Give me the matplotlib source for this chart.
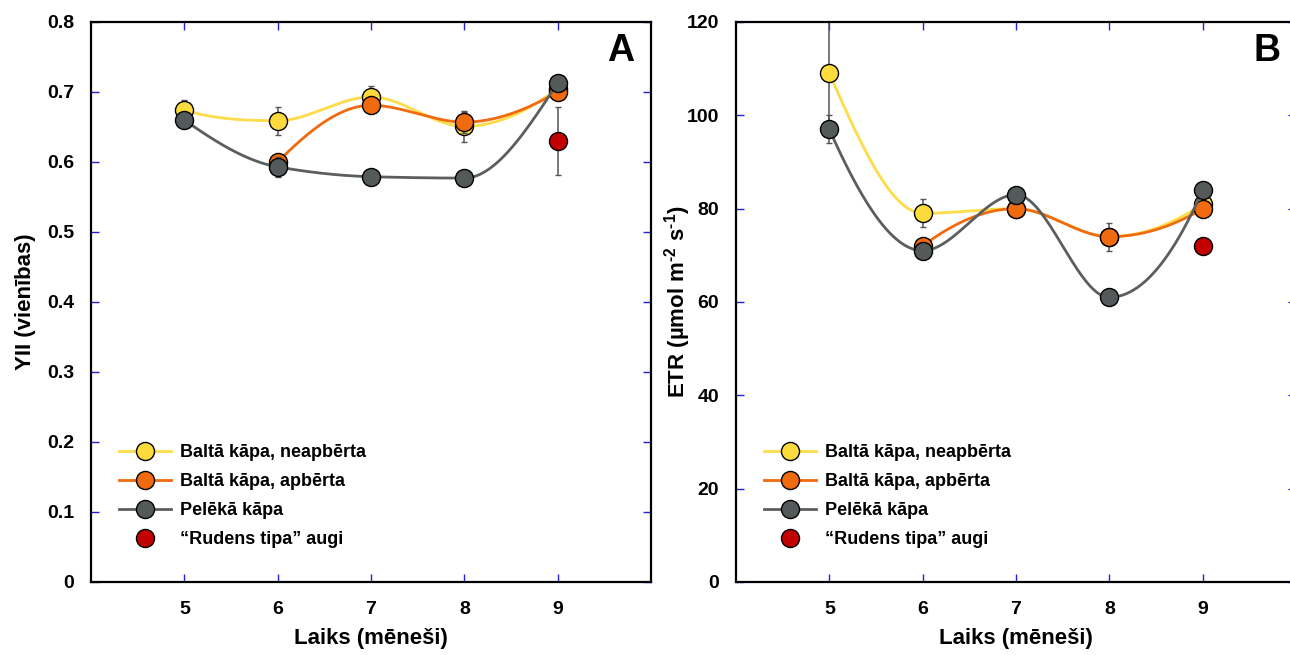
import numpy as np
import matplotlib
matplotlib.use("Agg")
import matplotlib.pyplot as plt
from matplotlib.lines import Line2D
from matplotlib.ticker import FuncFormatter

plt.rcParams['font.family'] = ['Liberation Sans', 'DejaVu Sans']
plt.rcParams['font.weight'] = 'bold'
plt.rcParams['mathtext.fontset'] = 'custom'
plt.rcParams['mathtext.rm'] = 'Liberation Sans:bold'
plt.rcParams['mathtext.default'] = 'rm'

# Months of observation
months = [5, 6, 7, 8, 9]
months_covered = [6, 7, 8, 9]
months_autumn = [9]

# Panel A: effective quantum yield Y(II)
yii_white = [0.674, 0.659, 0.693, 0.651, 0.705]
yii_white_err = [0.015, 0.020, 0.016, 0.022, 0.005]
yii_covered = [0.600, 0.681, 0.657, 0.700]
yii_covered_err = [0.005, 0.010, 0.015, 0.005]
yii_grey = [0.660, 0.593, 0.579, 0.577, 0.713]
yii_grey_err = [0.005, 0.014, 0.005, 0.005, 0.005]
yii_autumn = [0.630]
yii_autumn_err = [0.048]

# Panel B: electron transport rate
etr_white = [109, 79, 80, 74, 81]
etr_white_err = [13, 3, 1, 1, 1]
etr_covered = [72, 80, 74, 80]
etr_covered_err = [1, 1, 3, 1]
etr_grey = [97, 71, 83, 61, 84]
etr_grey_err = [3, 1, 1, 1, 1]
etr_autumn = [72]

labels = ["Baltā kāpa, neapbērta", "Baltā kāpa, apbērta",
          "Pelēkā kāpa", "“Rudens tipa” augi"]
colors = ["#FDDB3C", "#F06A10", "#54595A", "#C20000"]
line_colors = ["#FDDC48", "#F06A10", "#5A5E5E", None]
tick_blue = "#2222DD"


def pchip_curve(x, y, n=300):
    """Shape-preserving piecewise cubic Hermite curve through the points."""
    x = np.asarray(x, float)
    y = np.asarray(y, float)
    h = np.diff(x)
    d = np.diff(y) / h
    k = len(x)
    m = np.zeros(k)
    for i in range(1, k - 1):
        if d[i - 1] * d[i] > 0:
            w1 = 2 * h[i] + h[i - 1]
            w2 = h[i] + 2 * h[i - 1]
            m[i] = (w1 + w2) / (w1 / d[i - 1] + w2 / d[i])
        else:
            m[i] = 0.0

    def end_slope(h0, h1, d0, d1):
        s = ((2 * h0 + h1) * d0 - h0 * d1) / (h0 + h1)
        if np.sign(s) != np.sign(d0):
            s = 0.0
        elif np.sign(d0) != np.sign(d1) and abs(s) > abs(3 * d0):
            s = 3 * d0
        return s

    m[0] = end_slope(h[0], h[1], d[0], d[1])
    m[-1] = end_slope(h[-1], h[-2], d[-1], d[-2])
    xs = np.linspace(x[0], x[-1], n)
    idx = np.clip(np.searchsorted(x, xs) - 1, 0, k - 2)
    hh = h[idx]
    t = (xs - x[idx]) / hh
    h00 = 2 * t ** 3 - 3 * t ** 2 + 1
    h10 = t ** 3 - 2 * t ** 2 + t
    h01 = -2 * t ** 3 + 3 * t ** 2
    h11 = t ** 3 - t ** 2
    ys = h00 * y[idx] + h10 * hh * m[idx] + h01 * y[idx + 1] + h11 * hh * m[idx + 1]
    return xs, ys


def draw_series(ax, x, y, err, i, z):
    if line_colors[i] is not None and len(x) > 2:
        xs, ys = pchip_curve(x, y)
        ax.plot(xs, ys, color=line_colors[i], lw=2.0, zorder=z, solid_capstyle='round')
    if err is not None:
        ax.errorbar(x, y, yerr=err, fmt='none', ecolor="#555555", elinewidth=1.1,
                    capsize=2.5, capthick=1.0, zorder=z + 0.1)
    ax.plot(x, y, 'o', ms=13, mfc=colors[i], mec='black', mew=1.0,
            linestyle='none', zorder=z + 0.2)


def style_axes(ax):
    for s in ax.spines.values():
        s.set_linewidth(1.6)
        s.set_color('black')
    ax.tick_params(axis='both', which='both', direction='in', length=6, width=1.0,
                   color=tick_blue, top=True, right=True, labelsize=14, pad=12)
    ax.tick_params(axis='x', pad=14)
    ax.set_xlim(4, 10)
    ax.set_xticks(months)
    for lab in ax.get_xticklabels() + ax.get_yticklabels():
        lab.set_fontweight('bold')


fig = plt.figure(figsize=(12.9, 6.55), dpi=100)
axA = fig.add_axes([91 / 1290, 73 / 655, 560 / 1290, 560 / 655])
axB = fig.add_axes([736 / 1290, 73 / 655, 560 / 1290, 560 / 655])

# Panel A
draw_series(axA, months, yii_white, yii_white_err, 0, 2)
draw_series(axA, months_covered, yii_covered, yii_covered_err, 1, 3)
draw_series(axA, months, yii_grey, yii_grey_err, 2, 4)
draw_series(axA, months_autumn, yii_autumn, yii_autumn_err, 3, 5)
style_axes(axA)
axA.set_ylim(0, 0.8)
axA.set_yticks(np.arange(0, 0.81, 0.1))
axA.yaxis.set_major_formatter(FuncFormatter(lambda v, p: "0" if abs(v) < 1e-9 else f"{v:.1f}"))
axA.set_ylabel("YII (vienības)", fontsize=16, fontweight='bold', labelpad=8)
axA.set_xlabel("Laiks (mēneši)", fontsize=16, fontweight='bold', labelpad=7)
axA.text(0.945, 0.930, "A", transform=axA.transAxes, ha='center', va='baseline',
         fontsize=27, fontweight='bold')

# Panel B
draw_series(axB, months, etr_white, etr_white_err, 0, 2)
draw_series(axB, months_covered, etr_covered, etr_covered_err, 1, 3)
draw_series(axB, months, etr_grey, etr_grey_err, 2, 4)
draw_series(axB, months_autumn, etr_autumn, None, 3, 5)
style_axes(axB)
axB.set_ylim(0, 120)
axB.set_yticks(np.arange(0, 121, 20))
axB.set_ylabel("ETR (µmol m$^{\\text{-2}}$ s$^{\\text{-1}}$)", fontsize=16,
               fontweight='bold', labelpad=-4)
axB.set_xlabel("Laiks (mēneši)", fontsize=16, fontweight='bold', labelpad=7)
axB.text(0.948, 0.930, "B", transform=axB.transAxes, ha='center', va='baseline',
         fontsize=27, fontweight='bold')

# Legends
for ax in (axA, axB):
    handles = []
    for i in range(4):
        if line_colors[i] is not None:
            handles.append(Line2D([0], [0], color=line_colors[i], lw=2.0, marker='o',
                                  ms=13, mfc=colors[i], mec='black', mew=1.0))
        else:
            handles.append(Line2D([0], [0], linestyle='none', marker='o',
                                  ms=13, mfc=colors[i], mec='black', mew=1.0))
    leg = ax.legend(handles, labels, loc='lower left', bbox_to_anchor=(0.037, 0.048),
                    frameon=False, fontsize=13, handlelength=2.9, handletextpad=0.49,
                    labelspacing=0.66, borderaxespad=0)
    for t in leg.get_texts():
        t.set_fontweight('bold')

fig.savefig("out.png", dpi=100)
